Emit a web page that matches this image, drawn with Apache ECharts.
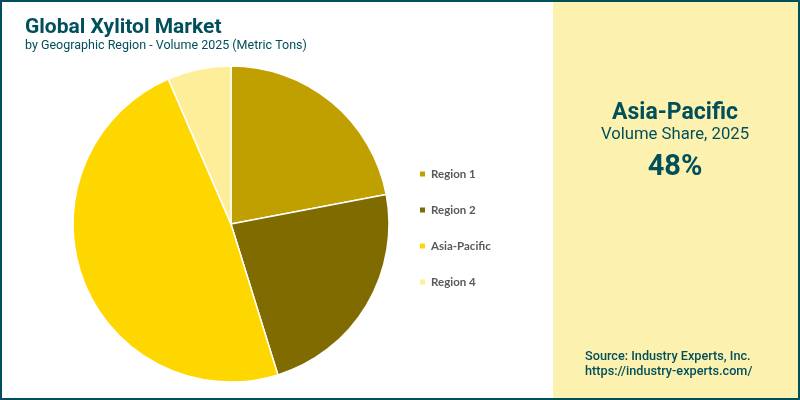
<!DOCTYPE html>
<html>
<head>
<meta charset="utf-8">
<style>
  html, body { margin: 0; padding: 0; background: #fff; }
  #chart { width: 800px; height: 400px; }
</style>
<script src="https://cdn.jsdelivr.net/npm/echarts@6/dist/echarts.min.js"></script>
</head>
<body>
<div id="chart"></div>
<script>
const categories = ['Region 1', 'Region 2', 'Asia-Pacific', 'Region 4'];
const shares = [22, 23.2, 48.3, 6.5];
const sliceColors = ['#BFA000', '#806B00', '#FFD700', '#FFEE99'];

const teal = '#004F5B';
const font = 'Roboto';

const chart = echarts.init(document.getElementById('chart'), null, { renderer: 'canvas' });

const pieData = [];
for (let i = 0; i < categories.length; i++) {
  pieData.push({ name: categories[i], value: shares[i], itemStyle: { color: sliceColors[i] } });
}

function label(x, y, text, size, weight, align) {
  return {
    type: 'text', x: x, y: y, z: 10,
    style: {
      text: text, fill: teal, align: align || 'left', verticalAlign: 'middle',
      font: weight + ' ' + size + 'px ' + font
    }
  };
}

chart.setOption({
  animation: false,
  backgroundColor: '#fff',
  legend: {
    orient: 'vertical',
    left: 418,
    top: 168,
    padding: 0,
    icon: 'rect',
    itemWidth: 7,
    itemHeight: 7,
    itemGap: 24,
    data: categories,
    textStyle: { fontFamily: 'Lato', fontSize: 11.5, fontWeight: 'bold', color: '#595959' }
  },
  graphic: [
    { type: 'rect', shape: { x: 553, y: 0, width: 247, height: 400 }, style: { fill: '#FDF1B0' }, z: 1 },
    { type: 'rect', shape: { x: 0, y: 0, width: 800, height: 2 }, style: { fill: teal }, z: 5 },
    { type: 'rect', shape: { x: 0, y: 398, width: 800, height: 2 }, style: { fill: teal }, z: 5 },
    { type: 'rect', shape: { x: 0, y: 0, width: 2, height: 400 }, style: { fill: teal }, z: 5 },
    { type: 'rect', shape: { x: 798, y: 0, width: 2, height: 400 }, style: { fill: teal }, z: 5 },
    label(25, 28, 'Global Xylitol Market', 21, 'bold'),
    label(25, 46, 'by Geographic Region - Volume 2025 (Metric Tons)', 12.5, 'normal'),
    label(675, 113, 'Asia-Pacific', 23, 'bold', 'center'),
    label(675, 135, 'Volume Share, 2025', 16.7, 'normal', 'center'),
    label(675, 168, '48%', 29, 'bold', 'center'),
    label(585, 357, 'Source: Industry Experts, Inc.', 12.7, '500'),
    label(585, 372, 'https://industry-experts.com/', 12.7, '500')
  ],
  series: [{
    type: 'pie',
    center: [231, 224],
    radius: [0, 158],
    startAngle: 90,
    clockwise: true,
    label: { show: false },
    labelLine: { show: false },
    itemStyle: { borderColor: '#fff', borderWidth: 1.5 },
    data: pieData
  }]
});
</script>
</body>
</html>
